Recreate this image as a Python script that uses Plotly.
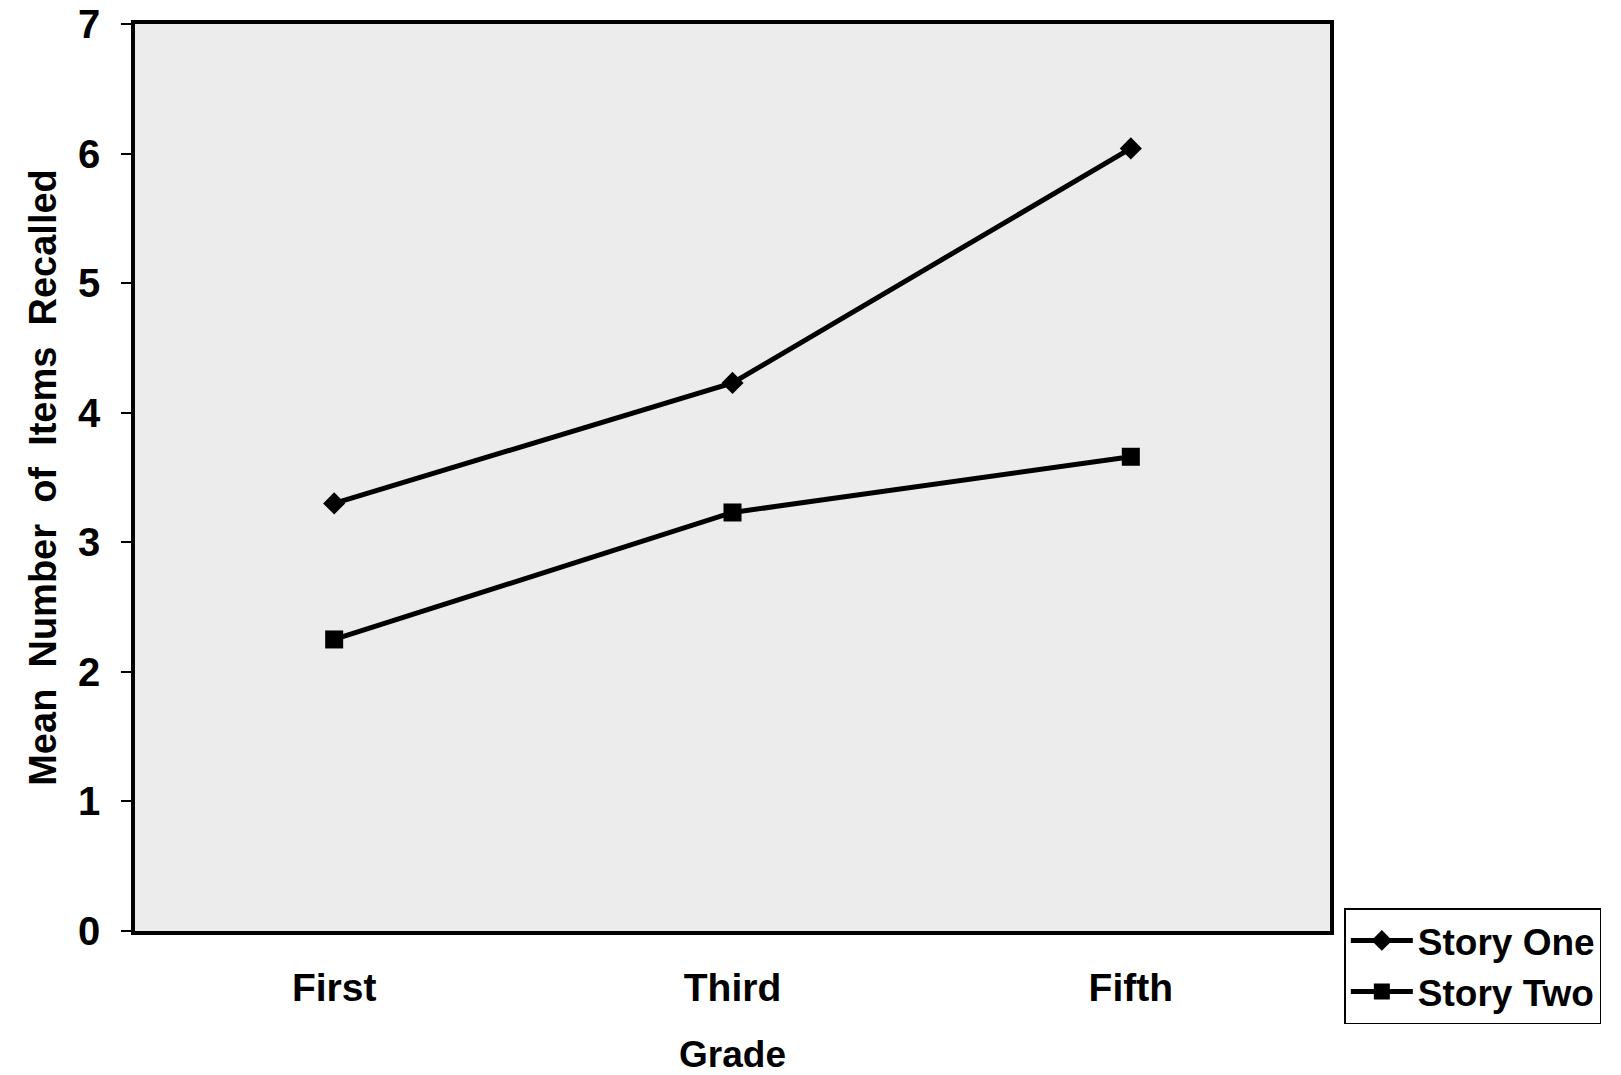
import plotly.graph_objects as go

grades = ["First", "Third", "Fifth"]
story_one = [3.30, 4.23, 6.04]
story_two = [2.25, 3.23, 3.66]
y_ticks = [0, 1, 2, 3, 4, 5, 6, 7]

FONT = "Liberation Sans, Arial, Helvetica, sans-serif"

fig = go.Figure()
fig.add_trace(go.Scatter(
    x=grades, y=story_one, name="Story One", mode="lines+markers",
    line=dict(color="black", width=5),
    marker=dict(symbol="diamond", size=17, color="black"),
))
fig.add_trace(go.Scatter(
    x=grades, y=story_two, name="Story Two", mode="lines+markers",
    line=dict(color="black", width=5),
    marker=dict(symbol="square", size=18, color="black"),
))

fig.update_layout(
    width=1621, height=1075,
    margin=dict(l=135, r=291, t=24, b=144, autoexpand=False),
    paper_bgcolor="white",
    plot_bgcolor="#ececec",
    font=dict(family=FONT, color="black", size=39, weight="bold"),
    showlegend=True,
    legend=dict(
        x=1.012, xanchor="left", y=0.025, yanchor="top",
        bordercolor="black", borderwidth=1.5, bgcolor="white",
        font=dict(family=FONT, size=37, weight="bold", color="black"),
        itemwidth=62, tracegroupgap=0,
    ),
    yaxis2=dict(
        overlaying="y", side="left", range=[0, 7], tickvals=y_ticks,
        showticklabels=False, showgrid=False, zeroline=False, showline=False,
        ticks="inside", ticklen=12, tickwidth=2, tickcolor="black",
        automargin=False,
    ),
)

fig.update_xaxes(
    type="category", categoryorder="array", categoryarray=grades,
    range=[-0.5, 2.5], automargin=False,
    showgrid=False, zeroline=False,
    showline=True, linecolor="black", linewidth=3.5, mirror=True,
    ticks="", ticklabelstandoff=19,
    tickfont=dict(family=FONT, size=39, weight="bold"),
    title=dict(text="Grade", font=dict(family=FONT, size=37, weight="bold"), standoff=37),
)

fig.update_yaxes(
    range=[0, 7], tickvals=y_ticks, ticktext=[str(v) for v in y_ticks],
    automargin=False,
    showgrid=False, zeroline=False,
    showline=True, linecolor="black", linewidth=3.5, mirror=True,
    ticks="outside", ticklen=10, tickwidth=2, tickcolor="black",
    ticklabelstandoff=13,
    tickfont=dict(family=FONT, size=40, weight="bold"),
    title=dict(text="Mean \u00a0Number \u00a0of \u00a0Items \u00a0Recalled",
               font=dict(family=FONT, size=38, weight="bold"), standoff=11),
)
fig.layout.yaxis2.ticks = "inside"
fig.layout.yaxis2.showline = False
fig.layout.yaxis2.showticklabels = False
fig.layout.yaxis2.title = None

fig.write_html("out.html", config={"displayModeBar": False},
               post_script="document.body.style.margin='0px';")
